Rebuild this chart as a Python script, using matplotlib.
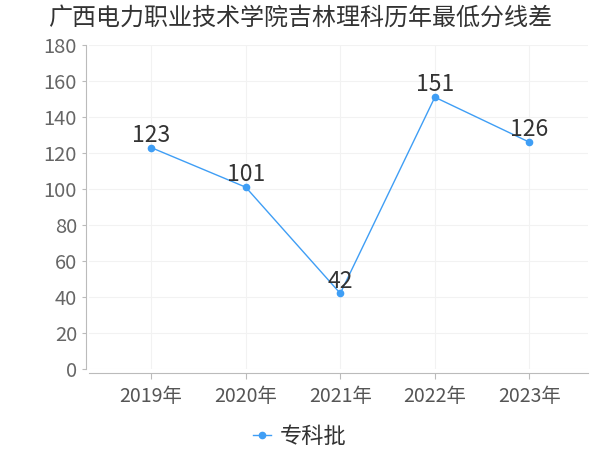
import matplotlib
matplotlib.use("Agg")
import matplotlib.pyplot as plt

plt.rcParams['font.family'] = ['Noto Sans CJK SC', 'DejaVu Sans']

years = ['2019年', '2020年', '2021年', '2022年', '2023年']
scores = [123, 101, 42, 151, 126]
series_name = '专科批'
title = '广西电力职业技术学院吉林理科历年最低分线差'

line_color = '#3f9ef5'

fig = plt.figure(figsize=(6, 4.5), dpi=100)
ax = fig.add_axes([0.148, 0.18, 0.832, 0.72])

x = list(range(len(years)))
ax.plot(x, scores, color=line_color, linewidth=1, marker='o', markersize=4.5,
        label=series_name, zorder=3)
for xi, v in zip(x, scores):
    ax.text(xi, v + 0.5, str(v), ha='center', va='bottom', fontsize=16.5, color='#333333')

ax.set_ylim(0, 180)
ax.set_yticks(range(0, 181, 20))
ax.set_xlim(-0.66, 4.62)
ax.set_xticks(x)
ax.set_xticklabels(years)

ax.grid(True, color='#f2f2f2', linewidth=0.8)
ax.set_axisbelow(True)
for s in ['top', 'right']:
    ax.spines[s].set_visible(False)
ax.spines['left'].set_color('#bbbbbb')
ax.spines['bottom'].set_color('#bbbbbb')
ax.spines['left'].set_position(('outward', 2))
ax.spines['bottom'].set_position(('outward', 3))
ax.tick_params(axis='y', labelsize=14.5, labelcolor='#666666', color='#bbbbbb', length=3)
ax.tick_params(axis='x', labelsize=14, labelcolor='#555555', color='#bbbbbb', length=4, pad=5)

fig.text(0.08, 0.96, title, fontsize=17.3, color='#333333', ha='left', va='center')

fig.legend(loc='upper center', bbox_to_anchor=(0.5, 0.1), frameon=False,
           fontsize=16, handlelength=0.8, handletextpad=0.4, labelcolor='#333333')

fig.savefig('out.png', dpi=100)
